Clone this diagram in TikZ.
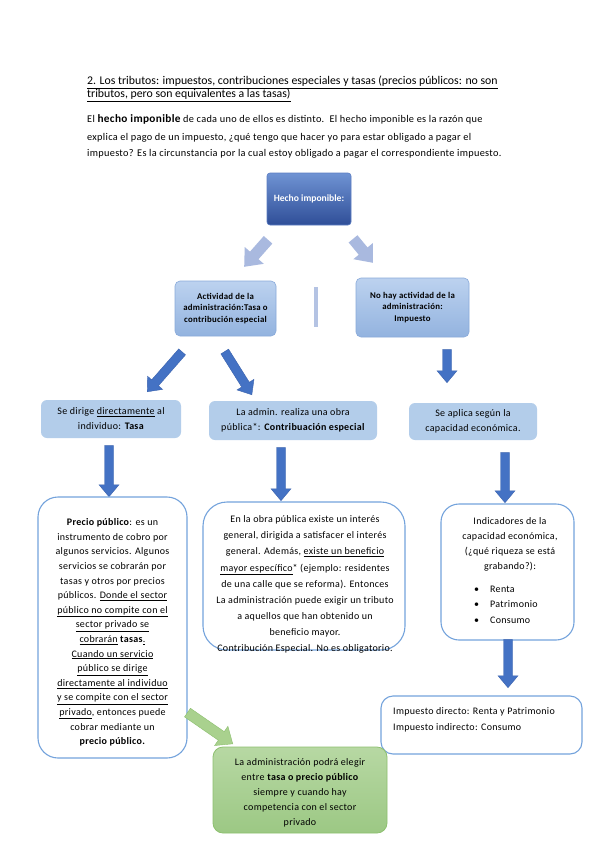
\documentclass[tikz,border=0pt]{standalone}
\usepackage{fontspec}
\setmainfont{Carlito}
\newfontfamily\spaced{Carlito}[LetterSpace=3]
\usetikzlibrary{shapes.arrows}
\definecolor{hdtop}{HTML}{6F93D3}
\definecolor{hdbot}{HTML}{2F4E98}
\definecolor{hdborder}{HTML}{5C7DC2}
\definecolor{r2top}{HTML}{BCD2EF}
\definecolor{r2bot}{HTML}{93B3DF}
\definecolor{r2border}{HTML}{89AADA}
\definecolor{lightarrow}{HTML}{A9B9DF}
\definecolor{vline}{HTML}{B4C3E3}
\definecolor{darkarrow}{HTML}{4472C4}
\definecolor{darkborder}{HTML}{3A62AD}
\definecolor{r3fill}{HTML}{B3CDEA}
\definecolor{bigborder}{HTML}{74A3DC}
\definecolor{grtop}{HTML}{B7D8A3}
\definecolor{grbot}{HTML}{9CC884}
\definecolor{grborder}{HTML}{8DC06F}
\definecolor{grarrow}{HTML}{A9D18E}
\definecolor{grarrowb}{HTML}{8CBF6E}
\newcommand{\ul}[1]{\underline{#1}}
\tikzset{
  titleline/.style={anchor=base west, inner sep=0pt, font=\fontsize{11.8}{13.5}\selectfont},
  introline/.style={anchor=base west, inner sep=0pt, font=\spaced\fontsize{10.3}{17}\selectfont},
  boxtxt/.style={align=center, inner sep=0pt, font=\spaced\fontsize{10}{14.6}\selectfont},
  hechobox/.style={draw=hdborder, rounded corners=3pt, top color=hdtop, bottom color=hdbot, line width=0.6pt},
  rowtwo/.style={draw=r2border, rounded corners=5pt, top color=r2top, bottom color=r2bot, line width=0.6pt,
    align=center, inner sep=0pt, font=\spaced\bfseries\fontsize{8.8}{11.3}\selectfont},
  rowthree/.style={fill=r3fill, rounded corners=6pt, align=center, inner sep=0pt, font=\spaced\fontsize{10}{15}\selectfont},
  bigbox/.style={draw=bigborder, fill=white, line width=1.1pt},
  greenbox/.style={draw=grborder, rounded corners=10pt, top color=grtop, bottom color=grbot, line width=0.8pt},
  blockarrow/.style={single arrow, inner sep=0pt, single arrow tip angle=80, single arrow head indent=0pt, anchor=tip},
  lightarr/.style={blockarrow, fill=lightarrow, draw=none, inner ysep=5.5pt, single arrow head extend=7pt},
  darkarr/.style={blockarrow, fill=darkarrow, draw=darkborder, line width=0.4pt, inner ysep=4.3pt, single arrow head extend=5.5pt},
  greenarr/.style={blockarrow, fill=grarrow, draw=grarrowb, line width=0.4pt, inner ysep=5pt, single arrow head extend=6.5pt},
}
\begin{document}
\begin{tikzpicture}[x=1pt,y=-1pt]
\useasboundingbox (0,0) rectangle (599,848);
\fill[white] (0,0) rectangle (599,848);

% header
\node[titleline] (title1) at (87,84.5)
  {\ul{2. Los tributos: impuestos, contribuciones especiales y tasas (precios públicos: no son}};
\node[titleline] (title2) at (87,98)
  {\ul{tributos, pero son equivalentes a las tasas)}};
\node[introline] (intro1) at (87,122.5)
  {El {\bfseries\fontsize{11.3}{17}\selectfont hecho imponible} de cada uno de ellos es distinto.\ \ El hecho imponible es la razón que};
\node[introline] (intro2) at (87,140)
  {explica el pago de un impuesto, ¿qué tengo que hacer yo para estar obligado a pagar el};
\node[introline] (intro3) at (87,156.5)
  {impuesto? Es la circunstancia por la cual estoy obligado a pagar el correspondiente impuesto.};

% top box
\node[hechobox, minimum width=84pt, minimum height=52pt, text=white, font=\bfseries\fontsize{9.6}{11}\selectfont] (hecho) at (309,199) {Hecho imponible:};

% light arrows
\node[lightarr, minimum height=36pt, rotate=228.5] (la1) at (244,267) {};
\node[lightarr, minimum height=31pt, rotate=-50.4] (la2) at (373,263) {};
\draw[vline, line width=3.5pt] (316,287) coordinate (v1) -- (316,327) coordinate (v2);

% row 2
\node[rowtwo, minimum width=101pt, minimum height=55pt] (act) at (225.5,308.5)
  {Actividad de la\\administración:Tasa o\\contribución especial};
\node[rowtwo, minimum width=113pt, minimum height=59pt] (nohay) at (412.5,307.5)
  {No hay actividad de la\\administración:\\Impuesto};

% dark arrows row 2 -> row 3
\node[darkarr, minimum height=53pt, rotate=228.8] (da1) at (147,392) {};
\node[darkarr, minimum height=51pt, rotate=-57.9] (da2) at (252,395) {};
\node[darkarr, minimum height=33pt, rotate=-90] (da3) at (447,383) {};

% row 3
\node[rowthree, minimum width=140pt, minimum height=38pt] (tasa) at (111,419)
  {Se dirige \ul{directamente} al\\individuo: \textbf{Tasa}};
\node[rowthree, minimum width=168pt, minimum height=39pt] (obra) at (293,420.5)
  {La admin. realiza una obra\\pública*: \textbf{Contribuación especial}};
\node[rowthree, minimum width=128pt, minimum height=37pt] (capac) at (473,421.5)
  {Se aplica según la\\capacidad económica.};

% down arrows
\node[darkarr, minimum height=51pt, rotate=-90] (db1) at (109,497) {};
\node[darkarr, minimum height=53pt, rotate=-90] (db2) at (281,501) {};
\node[darkarr, minimum height=50pt, rotate=-90] (db3) at (505,503) {};

% big boxes
\node[bigbox, rounded corners=20pt, minimum width=149pt, minimum height=261pt] (precio) at (112.5,627.5) {};
\node[boxtxt] (precio-t) at (112.5,632.5)
  {\textbf{Precio público}: es un\\
   instrumento de cobro por\\
   algunos servicios. Algunos\\
   servicios se cobrarán por\\
   tasas y otros por precios\\
   públicos. \ul{Donde el sector}\\
   \ul{público no compite con el}\\
   \ul{sector privado se}\\
   \ul{cobrarán} \textbf{tasas}\ul{.}\\
   \ul{Cuando un servicio}\\
   \ul{público se dirige}\\
   \ul{directamente al individuo}\\
   \ul{y se compite con el sector}\\
   \ul{privado}, entonces puede\\
   cobrar mediante un\\
   \textbf{precio público.}};

\node[bigbox, rounded corners=24pt, minimum width=202pt, minimum height=148pt] (interes) at (304,576) {};
\node[boxtxt, font=\spaced\fontsize{10}{16.1}\selectfont] (interes-t) at (305,584.5)
  {En la obra pública existe un interés\\
   general, dirigida a satisfacer el interés\\
   general. Además, \ul{existe un beneficio}\\
   \ul{mayor específico}* (ejemplo: residentes\\
   de una calle que se reforma). Entonces\\
   La administración puede exigir un tributo\\
   a aquellos que han obtenido un\\
   beneficio mayor.\\
   Contribución Especial. No es obligatorio.};

\node[bigbox, rounded corners=18pt, minimum width=133pt, minimum height=136pt] (indic) at (507.5,572) {};
\node[boxtxt, font=\spaced\fontsize{10}{15}\selectfont] (indic-t) at (510,544.5)
  {Indicadores de la\\capacidad económica,\\(¿qué riqueza se está\\grabando?):};
\node[anchor=west, inner sep=0pt, font=\spaced\fontsize{10}{15}\selectfont] (b1) at (474,589) {\textbullet\hspace{11pt}Renta};
\node[anchor=west, inner sep=0pt, font=\spaced\fontsize{10}{15}\selectfont] (b2) at (474,604.5) {\textbullet\hspace{11pt}Patrimonio};
\node[anchor=west, inner sep=0pt, font=\spaced\fontsize{10}{15}\selectfont] (b3) at (474,620) {\textbullet\hspace{11pt}Consumo};

\node[darkarr, minimum height=48pt, rotate=-90] (dc1) at (508,688) {};

\node[bigbox, rounded corners=12pt, minimum width=201pt, minimum height=58pt] (directo) at (481.5,725) {};
\node[anchor=north west, align=left, inner sep=0pt, font=\spaced\fontsize{10}{16}\selectfont] (directo-t) at (393,707)
  {Impuesto directo: Renta y Patrimonio\\Impuesto indirecto: Consumo};

% green
\node[greenarr, minimum height=55pt, rotate=-34.6] (ga) at (233,744) {};
\node[greenbox, minimum width=174pt, minimum height=86pt] (eleg) at (300,790) {};
\node[boxtxt, font=\spaced\fontsize{10}{15}\selectfont] (eleg-t) at (300,793)
  {La administración podrá elegir\\
   entre \textbf{tasa o precio público}\\
   siempre y cuando hay\\
   competencia con el sector\\
   privado};
\end{tikzpicture}
\end{document}
